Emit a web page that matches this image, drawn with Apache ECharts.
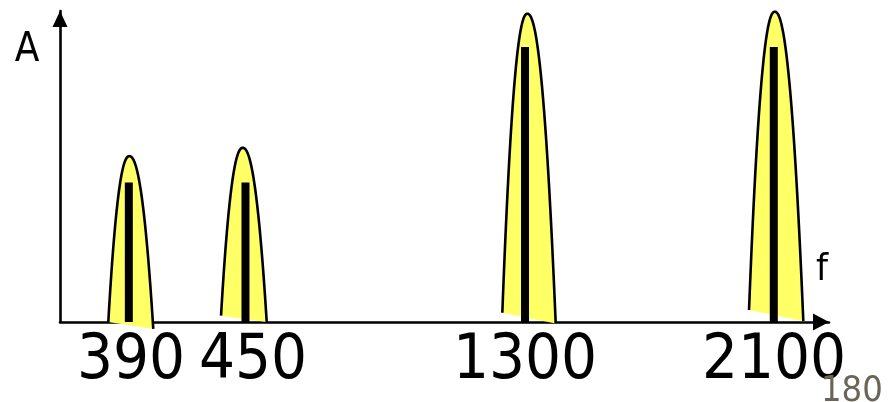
<!DOCTYPE html>
<html>
<head>
<meta charset="utf-8">
<script src="https://cdn.jsdelivr.net/npm/echarts@6/dist/echarts.min.js"></script>
<style>
  html, body { margin: 0; padding: 0; background: #fff; }
  #chart { width: 893px; height: 402px; }
</style>
</head>
<body>
<div id="chart"></div>
<script>
// Spectral lines of the signal, placed on a schematic frequency axis (0–100)
const freqLabels = ['390', '450', '1300', '2100'];
const linePos = [8.95, 24.12, 60.47, 92.82];
const labelPos = [9.23, 25.1, 60.47, 92.85];
// Amplitude A of each line
const amplitude = [1.01, 1.01, 1.99, 1.99];

// Envelope around each line: apex, left foot and right foot (position, amplitude)
const apexPos = [9.01, 23.76, 60.77, 92.95];
const apexAmp = [1.20, 1.26, 2.23, 2.245];
const leftFootPos = [6.28, 20.94, 57.52, 89.60];
const leftFootAmp = [0, 0.046, 0.067, 0.087];
const rightFootPos = [12.13, 26.88, 64.46, 96.66];
const rightFootAmp = [-0.05, 0, -0.01, 0.007];

const FONT = '"DejaVu Sans Condensed", "DejaVu Sans", sans-serif';

const envelopeData = apexPos.map((x, i) => [
  x, apexAmp[i], leftFootPos[i], leftFootAmp[i], rightFootPos[i], rightFootAmp[i]
]);
const lineData = linePos.map((x, i) => [x, amplitude[i]]);

function renderEnvelope(params, api) {
  const ax = api.value(0), ay = api.value(1);
  const lx = api.value(2), ly = api.value(3);
  const rx = api.value(4), ry = api.value(5);
  const N = 48, P = 2.2;
  const pts = [];
  // left flank, foot -> apex
  for (let k = N; k >= 0; k--) {
    const s = k / N;
    pts.push(api.coord([ax - (ax - lx) * s, ay - (ay - ly) * Math.pow(s, P)]));
  }
  // right flank, apex -> foot
  for (let k = 1; k <= N; k++) {
    const s = k / N;
    pts.push(api.coord([ax + (rx - ax) * s, ay - (ay - ry) * Math.pow(s, P)]));
  }
  return {
    type: 'group',
    children: [
      { type: 'polygon', shape: { points: pts }, style: { fill: '#ffff66', stroke: null } },
      { type: 'polyline', shape: { points: pts }, style: { stroke: '#000', lineWidth: 2.6, fill: null } }
    ]
  };
}

const chart = echarts.init(document.getElementById('chart'), null, { renderer: 'canvas' });
chart.setOption({
  animation: false,
  backgroundColor: '#fff',
  title: {
    text: '180',
    left: 821,
    top: 374,
    padding: 0,
    textStyle: { fontFamily: FONT, fontSize: 36, fontWeight: 'normal', color: '#6b6558' }
  },
  grid: { left: 60, right: 64, top: 11, bottom: 80, outerBoundsMode: 'none', containLabel: false },
  xAxis: {
    type: 'value',
    min: 0,
    max: 100,
    name: 'f',
    nameLocation: 'end',
    nameGap: -13,
    nameMoveOverlap: false,
    nameTextStyle: {
      fontFamily: FONT, fontSize: 38, color: '#000',
      verticalAlign: 'bottom', padding: [0, 0, 33, 0]
    },
    splitLine: { show: false },
    axisTick: { show: false },
    axisLine: {
      onZero: true,
      symbol: ['none', 'triangle'],
      symbolSize: [17, 16],
      symbolOffset: [0, -8],
      lineStyle: { color: '#000', width: 2.6 }
    },
    axisLabel: {
      customValues: labelPos,
      margin: 8,
      fontFamily: FONT,
      fontSize: 63,
      color: '#000',
      formatter: function (v) {
        let best = 0;
        labelPos.forEach((p, i) => { if (Math.abs(p - v) < Math.abs(labelPos[best] - v)) best = i; });
        return freqLabels[best];
      }
    }
  },
  yAxis: {
    type: 'value',
    min: 0,
    max: 2.25,
    name: 'A',
    nameLocation: 'end',
    nameGap: -60,
    nameMoveOverlap: false,
    nameTextStyle: { fontFamily: FONT, fontSize: 40, color: '#000', padding: [0, 66, 0, 0] },
    splitLine: { show: false },
    axisTick: { show: false },
    axisLabel: { show: false },
    axisLine: {
      show: true,
      onZero: true,
      symbol: ['none', 'triangle'],
      symbolSize: [15, 16],
      symbolOffset: [0, -8],
      lineStyle: { color: '#000', width: 2.6 }
    }
  },
  series: [
    {
      type: 'custom',
      name: 'envelope',
      data: envelopeData,
      renderItem: renderEnvelope,
      clip: false,
      z: 2,
      encode: { x: 0, y: 1 }
    },
    {
      type: 'bar',
      name: 'lines',
      data: lineData,
      barWidth: 8,
      itemStyle: { color: '#000' },
      z: 3
    }
  ]
});
</script>
</body>
</html>
